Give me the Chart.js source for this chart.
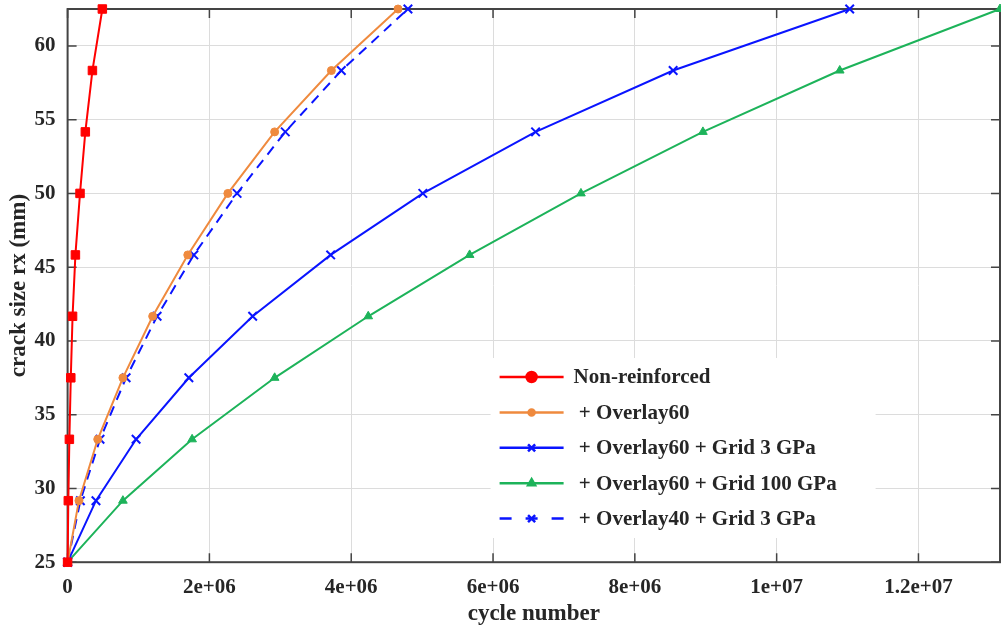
<!DOCTYPE html>
<html>
<head>
<meta charset="utf-8">
<script src="https://cdn.jsdelivr.net/npm/chart.js@4.4.0/dist/chart.umd.min.js"></script>
<style>
  html, body { margin: 0; padding: 0; background: #fff; overflow: hidden; }
  canvas { display: block; }
</style>
</head>
<body>
<!-- a little wider than the window: the scale keeps ~8px spare on the right, which falls off-screen -->
<canvas id="crackChart" width="1008" height="628"></canvas>
<script>
// crack size rx (mm) at each step, same for every series
const crackSizes = [25, 29.17, 33.33, 37.5, 41.67, 45.83, 50, 54.17, 58.33, 62.5];

// cycle numbers, one array per case
const nonReinforced = [0, 1.0e4, 2.5e4, 4.5e4, 7.0e4, 1.1e5, 1.75e5, 2.5e5, 3.5e5, 4.9e5];
const overlay60 = [0, 1.6e5, 4.25e5, 7.8e5, 1.20e6, 1.695e6, 2.26e6, 2.92e6, 3.72e6, 4.66e6];
const overlay60Grid3 = [0, 4.0e5, 9.66e5, 1.71e6, 2.61e6, 3.71e6, 5.01e6, 6.60e6, 8.54e6, 1.103e7];
const overlay60Grid100 = [0, 7.8e5, 1.756e6, 2.92e6, 4.24e6, 5.67e6, 7.24e6, 8.96e6, 1.089e7, 1.315e7];
const overlay40Grid3 = [0, 1.8e5, 4.57e5, 8.25e5, 1.262e6, 1.78e6, 2.39e6, 3.07e6, 3.86e6, 4.80e6];

const seriesLabels = ['Non-reinforced', ' + Overlay60', ' + Overlay60 + Grid 3 GPa', ' + Overlay60 + Grid 100 GPa', ' + Overlay40 + Grid 3 GPa'];

const xTicks = [0, 2e6, 4e6, 6e6, 8e6, 1e7, 1.2e7];
const xTickLabels = ['0', '2e+06', '4e+06', '6e+06', '8e+06', '1e+07', '1.2e+07'];
const yTicks = [25, 30, 35, 40, 45, 50, 55, 60];

const SERIF = "'Liberation Serif', 'Times New Roman', serif";
const TICK_FONT = { family: SERIF, size: 21, weight: 'bold' };
const TITLE_FONT = { family: SERIF, size: 23, weight: 'bold' };
const TEXT = '#262626';

function toPoints(xs) {
    return xs.map((v, i) => ({ x: v, y: crackSizes[i] }));
}

function makeSet(label, xs, color, style, radius, dash) {
    return {
        label: label,
        data: toPoints(xs),
        borderColor: color,
        backgroundColor: color,
        borderWidth: 2,
        borderDash: dash || [],
        pointStyle: style,
        pointRadius: radius,
        pointBackgroundColor: color,
        pointBorderColor: color,
        pointBorderWidth: style === 'crossRot' ? 2 : 1,
        tension: 0,
        fill: false,
        clip: false
    };
}

// no extra room for labels hanging past the ends
function noEdgePadding(scale) {
    scale.paddingTop = 0;
    scale.paddingBottom = 0;
    scale.paddingLeft = 0;
    scale.paddingRight = 0;
}

// box round the plot with inward ticks on all four sides
const frameBox = {
    id: 'frameBox',
    beforeDatasetsDraw(chart) {
        const { ctx, chartArea: a, scales: { x, y } } = chart;
        ctx.save();
        ctx.strokeStyle = '#444';
        ctx.lineWidth = 1.5;
        ctx.beginPath();
        xTicks.forEach(v => {
            const px = x.getPixelForValue(v);
            ctx.moveTo(px, a.bottom); ctx.lineTo(px, a.bottom - 9);
            ctx.moveTo(px, a.top); ctx.lineTo(px, a.top + 9);
        });
        yTicks.forEach(v => {
            const py = y.getPixelForValue(v);
            ctx.moveTo(a.left, py); ctx.lineTo(a.left + 9, py);
            ctx.moveTo(a.right, py); ctx.lineTo(a.right - 9, py);
        });
        ctx.stroke();
        ctx.lineWidth = 2;
        ctx.strokeRect(a.left, a.top, a.width, a.height);
        ctx.restore();
    }
};

// legend inside the plot, lower right
const innerLegend = {
    id: 'innerLegend',
    afterDraw(chart) {
        const { ctx, chartArea: a } = chart;
        const bx = a.left + 423, by = a.top + 349;
        ctx.save();
        ctx.fillStyle = '#fff';
        ctx.fillRect(bx, by, 385, 180);
        chart.data.datasets.forEach((ds, i) => {
            const cy = by + 19 + i * 35.4;
            const x0 = bx + 9, x1 = bx + 73;
            ctx.strokeStyle = ds.borderColor;
            ctx.fillStyle = ds.borderColor;
            ctx.lineWidth = 2.5;
            ctx.setLineDash(ds.borderDash.length ? [12, 14] : []);
            ctx.beginPath();
            ctx.moveTo(x0, cy); ctx.lineTo(x1, cy);
            ctx.stroke();
            ctx.setLineDash([]);
            Chart.helpers.drawPoint(ctx, {
                pointStyle: ds.pointStyle === 'rect' ? 'circle' : ds.pointStyle,
                radius: ds.pointStyle === 'rect' ? 5 : ds.pointRadius - 1,
                rotation: 0,
                borderWidth: ds.pointBorderWidth
            }, (x0 + x1) / 2, cy);
            ctx.fillStyle = TEXT;
            ctx.font = 'bold 21px ' + SERIF;
            ctx.textBaseline = 'middle';
            ctx.textAlign = 'left';
            ctx.fillText(ds.label, bx + 83, cy + 1);
        });
        ctx.restore();
    }
};

const ctx = document.getElementById('crackChart').getContext('2d');
new Chart(ctx, {
    type: 'line',
    data: {
        datasets: [
            makeSet(seriesLabels[0], nonReinforced, '#ff0000', 'rect', 6),
            makeSet(seriesLabels[1], overlay60, '#ef8a3e', 'circle', 4),
            makeSet(seriesLabels[2], overlay60Grid3, '#0a14ff', 'crossRot', 6),
            makeSet(seriesLabels[3], overlay60Grid100, '#1db35a', 'triangle', 5),
            makeSet(seriesLabels[4], overlay40Grid3, '#0a14ff', 'crossRot', 6, [10, 7])
        ]
    },
    options: {
        responsive: false,
        animation: false,
        layout: { padding: { left: 4, right: 0, top: 9, bottom: 0 } },
        plugins: {
            legend: { display: false },
            tooltip: { enabled: false }
        },
        scales: {
            x: {
                type: 'linear',
                min: 0,
                max: 1.315e7,
                afterBuildTicks: scale => { scale.ticks = xTicks.map(v => ({ value: v })); },
                afterFit: noEdgePadding,
                ticks: {
                    color: TEXT,
                    font: TICK_FONT,
                    padding: 13,
                    maxRotation: 0,
                    callback: v => xTickLabels[xTicks.indexOf(v)]
                },
                grid: { color: '#dcdcdc', lineWidth: 1, drawTicks: false },
                border: { display: false },
                title: { display: true, text: 'cycle number', color: TEXT, font: TITLE_FONT, padding: { top: -13, bottom: 0 } }
            },
            y: {
                type: 'linear',
                min: 25,
                max: 62.5,
                afterBuildTicks: scale => { scale.ticks = yTicks.map(v => ({ value: v })); },
                afterFit: noEdgePadding,
                ticks: { color: TEXT, font: TICK_FONT, padding: 12 },
                grid: { color: '#dcdcdc', lineWidth: 1, drawTicks: false },
                border: { display: false },
                title: { display: true, text: 'crack size rx (mm)', color: TEXT, font: TITLE_FONT, padding: { top: 1, bottom: -10 } }
            }
        }
    },
    plugins: [frameBox, innerLegend]
});
</script>
</body>
</html>
